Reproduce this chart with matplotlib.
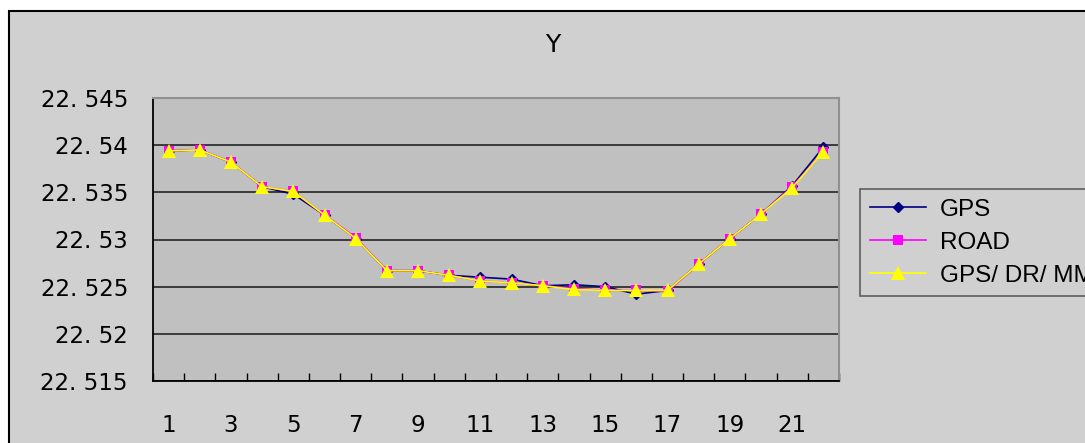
import matplotlib
matplotlib.use("Agg")
import matplotlib.pyplot as plt
import matplotlib.ticker as ticker
from matplotlib.patches import Rectangle
import numpy as np

# data
points = list(range(1, 23))
gps = [22.5394, 22.5395, 22.5382, 22.5356, 22.5348, 22.5326, 22.5301, 22.5267, 22.5267, 22.5262, 22.5260,
       22.5258, 22.5251, 22.5252, 22.5250, 22.5242, 22.5246, 22.5274, 22.5301, 22.5327, 22.5357, 22.5398]
road = [22.5394, 22.5395, 22.5382, 22.5356, 22.5351, 22.5326, 22.5302, 22.5267, 22.5267, 22.5262, 22.5256,
        22.5254, 22.5251, 22.5248, 22.5246, 22.5246, 22.5245, 22.5274, 22.5301, 22.5327, 22.5356, 22.5393]
gps_dr_mm = [22.5394, 22.5395, 22.5382, 22.5356, 22.5351, 22.5326, 22.5301, 22.5267, 22.5267, 22.5262, 22.5256,
             22.5254, 22.5251, 22.5247, 22.5246, 22.5246, 22.5246, 22.5274, 22.5301, 22.5327, 22.5355, 22.5393]
series_names = ["GPS", "ROAD", "GPS/ DR/ MM"]
y_ticks = [22.515, 22.52, 22.525, 22.53, 22.535, 22.54, 22.545]
x_labels = list(range(1, 22, 2))

plt.rcParams['font.family'] = ['Liberation Sans', 'DejaVu Sans']
W, H = 1085, 443
fig = plt.figure(figsize=(W / 100, H / 100), dpi=100, facecolor="white")

# chart area box (runs off the right and bottom edge like the original)
fig.patches.append(Rectangle((9 / W, -0.2), 1.2, 1 - 11 / H + 0.2, transform=fig.transFigure,
                             facecolor="#d0d0d0", edgecolor="black", linewidth=1.5, zorder=-10))

ax = fig.add_axes([153 / W, 1 - 381 / H, (839 - 153) / W, (381 - 98) / H])
ax.set_facecolor("#c0c0c0")

ax.plot(points, gps, color="#000080", marker="D", markersize=5, linewidth=1.2, label=series_names[0], zorder=3)
ax.plot(points, road, color="#ff00ff", marker="s", markersize=7.5, markeredgewidth=0, linewidth=1.2,
        label=series_names[1], zorder=4)
ax.plot(points, gps_dr_mm, color="#ffff00", marker="^", markersize=10, markeredgewidth=0, linewidth=1.2,
        label=series_names[2], zorder=5)

# y axis
ax.set_ylim(22.515, 22.545)
ax.set_yticks(y_ticks)
ax.yaxis.set_major_formatter(ticker.FuncFormatter(lambda v, _: f"{v:.3f}".rstrip("0").replace(".", ". ")))
ax.tick_params(axis="y", length=0, pad=18)
ax.grid(True, axis="y", color="#303030", linewidth=1.3)

# x axis: category style, labels every other point, ticks on category boundaries
ax.set_xlim(0.5, 22.5)
ax.set_xticks(x_labels)
ax.set_xticks(np.arange(0.5, 23, 1), minor=True)
ax.tick_params(axis="x", which="major", length=0, pad=24)
ax.tick_params(axis="x", which="minor", direction="in", length=5.5, width=1, color="black")

# wider digits, closer to the original rendering
for lab in ax.get_xticklabels() + ax.get_yticklabels():
    lab.set_family("DejaVu Sans")
    lab.set_fontsize(16.5)

for side in ["left", "bottom"]:
    ax.spines[side].set_color("black")
    ax.spines[side].set_linewidth(1.3)
for side in ["top", "right"]:
    ax.spines[side].set_color("#909090")
    ax.spines[side].set_linewidth(1.5)

fig.text(553 / W, 1 - 45 / H, "Y", ha="center", va="center", fontsize=18, family="DejaVu Sans")

leg = fig.legend(loc="upper left", bbox_to_anchor=(860 / W, 1 - 189 / H), fontsize=17.5, frameon=True,
                 fancybox=False, edgecolor="#404040", facecolor="#d0d0d0", handlelength=2.3,
                 handletextpad=0.6, labelspacing=0.45, borderpad=0.4, borderaxespad=0)
leg.get_frame().set_linewidth(1.2)

fig.savefig("out.png", dpi=100)
